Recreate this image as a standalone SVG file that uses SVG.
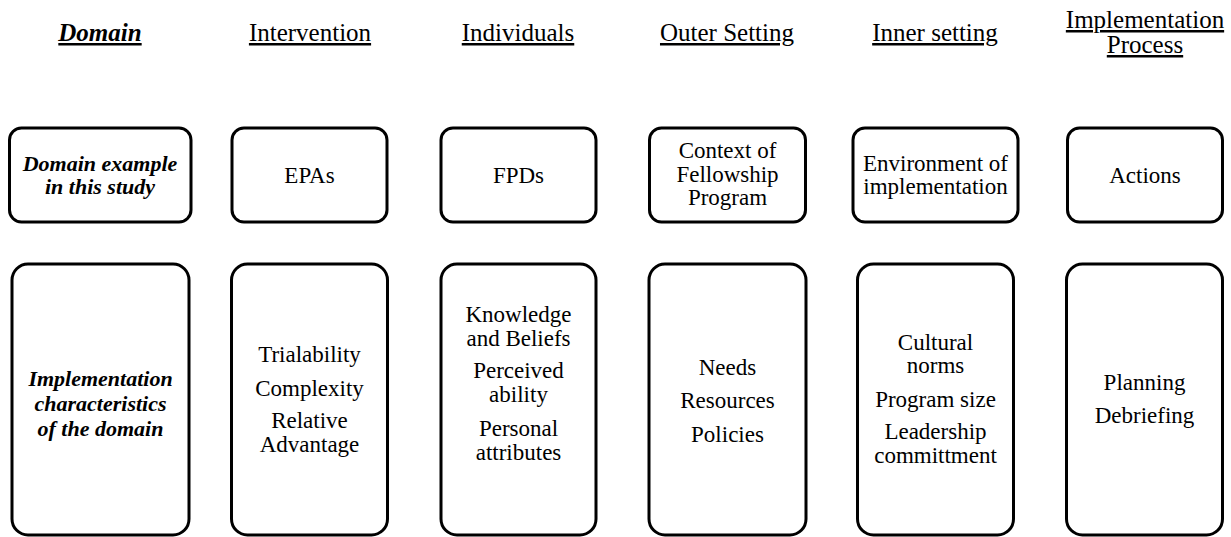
<svg xmlns="http://www.w3.org/2000/svg" width="1231" height="537" viewBox="0 0 1231 537" font-family="'Liberation Serif', 'Times New Roman', 'DejaVu Serif', serif">
<style>
.bx{fill:#fff;stroke:#000;stroke-width:3}
text{fill:#000;text-anchor:middle}
.h{font-size:25px;text-decoration:underline}
.hb{font-size:25px;font-weight:bold;font-style:italic;text-decoration:underline}
.t{font-size:23px}
.bi{font-size:22px;font-weight:bold;font-style:italic}
</style>
<rect width="1231" height="537" fill="#fff"/>
<g id="headers">
<text class="hb" x="100" y="41">Domain</text>
<text class="h" x="310" y="41">Intervention</text>
<text class="h" x="518" y="41">Individuals</text>
<text class="h" x="727" y="41">Outer Setting</text>
<text class="h" x="935" y="41">Inner setting</text>
<text class="h" x="1145" y="28">Implementation</text>
<text class="h" x="1145" y="53">Process</text>
</g>
<g id="connectors"></g>
<g id="n-domain-example">
<rect class="bx" x="9.5" y="128" width="181.5" height="94" rx="12"/>
<text class="bi" x="100" y="171">Domain example</text>
<text class="bi" x="100" y="194">in this study</text>
</g>
<g id="n-epas">
<rect class="bx" x="232" y="128" width="155" height="94" rx="12"/>
<text class="t" x="309.5" y="183">EPAs</text>
</g>
<g id="n-fpds">
<rect class="bx" x="441" y="128" width="155" height="94" rx="12"/>
<text class="t" x="518.5" y="183">FPDs</text>
</g>
<g id="n-context">
<rect class="bx" x="649.5" y="128" width="156" height="94" rx="12"/>
<text class="t" x="727.5" y="158">Context of</text>
<text class="t" x="727.5" y="182">Fellowship</text>
<text class="t" x="727.5" y="205">Program</text>
</g>
<g id="n-environment">
<rect class="bx" x="853" y="128" width="165" height="94" rx="12"/>
<text class="t" x="935.5" y="171">Environment of</text>
<text class="t" x="935.5" y="194">implementation</text>
</g>
<g id="n-actions">
<rect class="bx" x="1067.5" y="128" width="155" height="94" rx="12"/>
<text class="t" x="1145" y="183">Actions</text>
</g>
<g id="n-impl-char">
<rect class="bx" x="12" y="264" width="177" height="271" rx="16"/>
<text class="bi" x="100.5" y="386">Implementation</text>
<text class="bi" x="100.5" y="411">characteristics</text>
<text class="bi" x="100.5" y="436">of the domain</text>
</g>
<g id="n-intervention">
<rect class="bx" x="231.5" y="264" width="156" height="271" rx="16"/>
<text class="t" x="309.5" y="362">Trialability</text>
<text class="t" x="309.5" y="396">Complexity</text>
<text class="t" x="309.5" y="428">Relative</text>
<text class="t" x="309.5" y="452">Advantage</text>
</g>
<g id="n-individuals">
<rect class="bx" x="441" y="264" width="155" height="271" rx="16"/>
<text class="t" x="518.5" y="322">Knowledge</text>
<text class="t" x="518.5" y="346">and Beliefs</text>
<text class="t" x="518.5" y="378">Perceived</text>
<text class="t" x="518.5" y="402">ability</text>
<text class="t" x="518.5" y="436">Personal</text>
<text class="t" x="518.5" y="460">attributes</text>
</g>
<g id="n-outer">
<rect class="bx" x="649" y="264" width="157" height="271" rx="16"/>
<text class="t" x="727.5" y="375">Needs</text>
<text class="t" x="727.5" y="408">Resources</text>
<text class="t" x="727.5" y="442">Policies</text>
</g>
<g id="n-inner">
<rect class="bx" x="857.5" y="264" width="156" height="271" rx="16"/>
<text class="t" x="935.5" y="350">Cultural</text>
<text class="t" x="935.5" y="373">norms</text>
<text class="t" x="935.5" y="407">Program size</text>
<text class="t" x="935.5" y="439">Leadership</text>
<text class="t" x="935.5" y="463">committment</text>
</g>
<g id="n-process">
<rect class="bx" x="1066.5" y="264" width="156" height="271" rx="16"/>
<text class="t" x="1144.5" y="390">Planning</text>
<text class="t" x="1144.5" y="423">Debriefing</text>
</g>
</svg>
